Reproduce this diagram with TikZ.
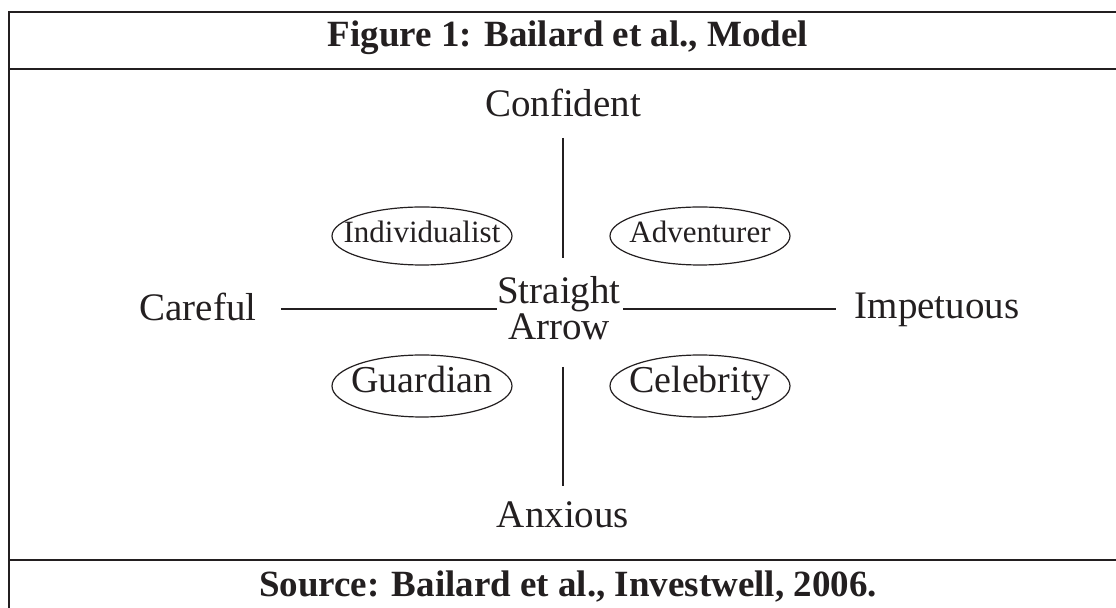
\documentclass[tikz,border=0pt]{standalone}
\usepackage{fontspec}
\setmainfont{Liberation Serif}
\usepackage{tikz}
\usetikzlibrary{shapes,positioning,calc}
\definecolor{ink}{HTML}{231F20}
\tikzset{
frameline/.style = {draw=ink, line width=1.2pt},
axisline/.style = {draw=ink, line width=0.8pt},
headtext/.style = {inner sep=0pt, anchor=base, text=ink, font=\fontsize{18.5}{22}\selectfont\bfseries},
axisword/.style = {inner sep=0pt, anchor=base, text=ink, font=\fontsize{19.5}{23}\selectfont},
centreword/.style = {axisword, align=center, font=\fontsize{19.5}{15.5}\selectfont},
typenode/.style = {draw=ink, line width=0.6pt, ellipse, inner xsep=-20pt, inner ysep=-5pt, text=ink, minimum width=90pt, text height=0.68em, text depth=0pt},
smalltype/.style = {typenode, minimum height=29pt, font=\fontsize{15.5}{18}\selectfont},
bigtype/.style = {typenode, minimum height=31pt, font=\fontsize{19}{22}\selectfont}
}

\begin{document}
\begin{tikzpicture}[x=0.5pt, y=-0.5pt, auto, >=latex]
    \useasboundingbox (0,0) rectangle (1116,608);
    % frame
    \draw [frameline] (1116,12) -- (9,12) -- (9,608);
    \draw [frameline] (9,69) -- (1116,69);
    \draw [frameline] (9,560) -- (1116,560);
    \node [headtext] (title) at (568,47) {Figure 1: Bailard et al., Model};
    \node [headtext] (source) at (568,597) {Source: Bailard et al., Investwell, 2006.};
    % axis words
    \node [axisword] (confident) at (563,117) {Confident};
    \node [axisword] (anxious) at (563,528) {Anxious};
    \node [axisword] (careful) at (198,321) {Careful};
    \node [axisword] (impetuous) at (937,319) {Impetuous};
    \node [centreword] (straight) at (559,340) {Straight\\Arrow};
    \coordinate (sw) at ([yshift=15.5pt]straight.base west);
    \coordinate (se) at ([yshift=15.5pt]straight.base east);
    % types
    \node [smalltype] (individualist) at (422,236) {Individualist};
    \node [smalltype] (adventurer) at (700,236) {Adventurer};
    \node [bigtype] (guardian) at (422,386) {Guardian};
    \node [bigtype] (celebrity) at (700,386) {Celebrity};
    % axes
    \draw [axisline, shorten <=10.5pt, shorten >=9pt] (confident.base) -- (confident.base |- straight.north);
    \draw [axisline, shorten <=13pt, shorten >=8pt] (anxious.north |- straight.south) -- (anxious.north);
    \draw [axisline, shorten <=12pt] (careful.east |- sw) -- (sw);
    \draw [axisline, shorten <=1pt, shorten >=9pt] (se) -- (impetuous.west |- se);
\end{tikzpicture}
\end{document}
